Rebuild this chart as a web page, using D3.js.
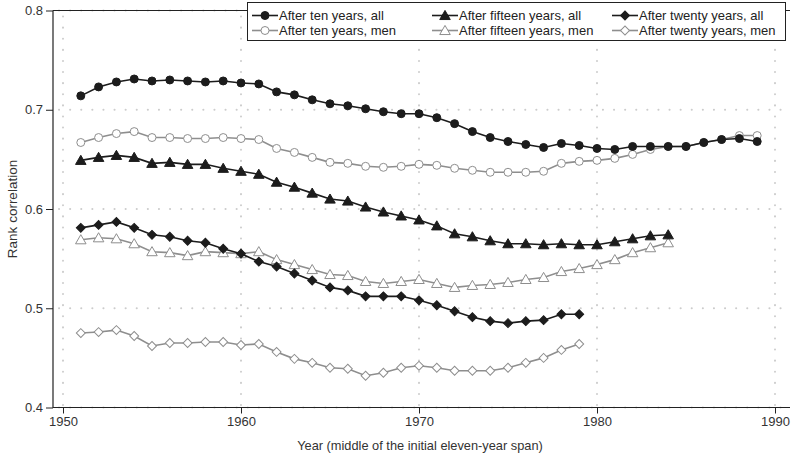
<!DOCTYPE html>
<html>
<head>
<meta charset="utf-8">
<script src="https://cdn.jsdelivr.net/npm/d3@7"></script>
<style>
  body { margin: 0; background: #fff; }
  svg { font-family: "Liberation Sans", Arial, sans-serif; }
</style>
</head>
<body>
<svg id="chart" width="791" height="459"></svg>
<script>
// Dades: correlacions de rang per any central (1951 endavant)
const firstYear = 1951;
const tenAll = [0.714,0.723,0.728,0.731,0.729,0.730,0.729,0.728,0.729,0.727,0.726,0.718,0.715,0.710,0.706,0.704,0.701,0.698,0.696,0.696,0.692,0.686,0.678,0.672,0.668,0.665,0.662,0.666,0.664,0.661,0.660,0.663,0.663,0.663,0.663,0.667,0.670,0.671,0.668];
const tenMen = [0.667,0.672,0.676,0.678,0.672,0.672,0.671,0.671,0.672,0.671,0.670,0.661,0.657,0.652,0.647,0.646,0.643,0.642,0.643,0.645,0.644,0.641,0.639,0.637,0.637,0.637,0.638,0.646,0.648,0.649,0.651,0.655,0.660,0.663,0.663,0.667,0.670,0.674,0.674];
const fifteenAll = [0.649,0.652,0.654,0.652,0.646,0.647,0.645,0.645,0.641,0.638,0.635,0.627,0.622,0.616,0.610,0.608,0.602,0.597,0.593,0.589,0.583,0.575,0.572,0.568,0.565,0.565,0.564,0.565,0.564,0.564,0.567,0.570,0.573,0.574];
const fifteenMen = [0.569,0.571,0.570,0.565,0.557,0.556,0.553,0.557,0.556,0.555,0.557,0.549,0.544,0.539,0.534,0.533,0.527,0.525,0.527,0.529,0.525,0.521,0.523,0.524,0.526,0.529,0.531,0.537,0.540,0.544,0.549,0.556,0.561,0.566];
const twentyAll = [0.581,0.584,0.587,0.581,0.574,0.572,0.568,0.566,0.560,0.555,0.547,0.542,0.535,0.528,0.521,0.518,0.512,0.512,0.512,0.508,0.503,0.497,0.491,0.487,0.485,0.487,0.488,0.494,0.494];
const twentyMen = [0.475,0.476,0.478,0.472,0.462,0.465,0.465,0.466,0.466,0.463,0.464,0.456,0.449,0.445,0.440,0.439,0.432,0.435,0.440,0.442,0.440,0.437,0.437,0.437,0.440,0.445,0.450,0.458,0.464];

const xTicks = [1950, 1960, 1970, 1980, 1990];
const yTicks = [0.4, 0.5, 0.6, 0.7, 0.8];

const series = [
  { name: "After ten years, all", values: tenAll, shape: "circle", men: false },
  { name: "After fifteen years, all", values: fifteenAll, shape: "triangle", men: false },
  { name: "After twenty years, all", values: twentyAll, shape: "diamond", men: false },
  { name: "After ten years, men", values: tenMen, shape: "circle", men: true },
  { name: "After fifteen years, men", values: fifteenMen, shape: "triangle", men: true },
  { name: "After twenty years, men", values: twentyMen, shape: "diamond", men: true }
];

const svg = d3.select("#chart");
const mLeft = 53, mRight = 790, mTop = 10.5, mBottom = 407.5;

const x = d3.scaleLinear().domain([1950, 1990]).range([63, 775]);
const y = d3.scaleLinear().domain([0.4, 0.8]).range([mBottom, mTop]);

// Graella puntejada
const grid = svg.append("g")
  .attr("stroke", "#cccccc")
  .attr("stroke-width", 2)
  .attr("stroke-dasharray", "0.1 11")
  .attr("stroke-linecap", "round");
yTicks.forEach(t => grid.append("line")
  .attr("x1", mLeft + 6).attr("x2", mRight).attr("y1", y(t)).attr("y2", y(t)));
xTicks.forEach(t => grid.append("line")
  .attr("x1", x(t)).attr("x2", x(t)).attr("y1", mTop + 6).attr("y2", mBottom));

// Eixos
const yAxis = svg.append("g")
  .attr("transform", `translate(${mLeft},0)`)
  .call(d3.axisLeft(y).tickValues(yTicks).tickFormat(d3.format(".1f")).tickSize(7).tickPadding(3));
const xAxis = svg.append("g")
  .attr("transform", `translate(0,${mBottom})`)
  .call(d3.axisBottom(x).tickValues(xTicks).tickFormat(d3.format("d")).tickSize(6).tickPadding(3));
[yAxis, xAxis].forEach(a => {
  a.select(".domain").remove();
  a.selectAll("line").attr("stroke", "#222");
  a.selectAll("text").attr("fill", "#333").style("font-size", "13px");
});
svg.append("path")
  .attr("d", `M${mLeft},${mTop}V${mBottom}H${mRight}`)
  .attr("fill", "none").attr("stroke", "#222").attr("stroke-width", 1.2);
svg.append("line")
  .attr("x1", mLeft).attr("x2", mRight).attr("y1", mTop).attr("y2", mTop)
  .attr("stroke", "#222").attr("stroke-width", 1);

// Títols
svg.append("text")
  .attr("transform", `translate(17,${(mTop + mBottom) / 2}) rotate(-90)`)
  .attr("text-anchor", "middle")
  .attr("fill", "#333")
  .style("font-size", "13.5px")
  .text("Rank correlation");
svg.append("text")
  .attr("x", 420).attr("y", 450)
  .attr("text-anchor", "middle")
  .attr("fill", "#333")
  .style("font-size", "12.8px")
  .text("Year (middle of the initial eleven-year span)");

const symbolFor = {
  circle: d3.symbol().type(d3.symbolCircle).size(50),
  triangle: d3.symbol().type(d3.symbolTriangle).size(48),
  diamond: d3.symbol().type(d3.symbolSquare).size(40)
};
const styleFor = s => s.men
  ? { line: "#8e8e8e", fill: "#fff", stroke: "#8e8e8e" }
  : { line: "#1c1c1c", fill: "#1c1c1c", stroke: "#1c1c1c" };
const symTransform = shape => (shape === "diamond" ? " rotate(45)" : "") + (shape === "triangle" ? " translate(0,1)" : "");

const line = d3.line()
  .x((d, i) => x(firstYear + i))
  .y(d => y(d));

// Primer els homes (gris), després els totals (negre) a sobre
const order = series.filter(s => s.men).concat(series.filter(s => !s.men));
order.forEach(s => {
  const st = styleFor(s);
  const g = svg.append("g");
  g.append("path")
    .datum(s.values)
    .attr("d", line)
    .attr("fill", "none")
    .attr("stroke", st.line)
    .attr("stroke-width", 1.6);
  g.selectAll("path.pt")
    .data(s.values)
    .join("path")
    .attr("class", "pt")
    .attr("d", symbolFor[s.shape])
    .attr("transform", (d, i) => `translate(${x(firstYear + i)},${y(d)})` + symTransform(s.shape))
    .attr("fill", st.fill)
    .attr("stroke", st.stroke)
    .attr("stroke-width", 1);
});

// Llegenda
const lg = svg.append("g");
lg.append("rect")
  .attr("x", 247.5).attr("y", 2.5).attr("width", 538).attr("height", 38)
  .attr("fill", "#fff").attr("stroke", "#222");
const colX = [252, 432, 612];
series.forEach((s, i) => {
  const st = styleFor(s);
  const cx = colX[i % 3], cy = i < 3 ? 15.5 : 30.5;
  const e = lg.append("g").attr("transform", `translate(${cx},${cy})`);
  e.append("line").attr("x1", 0).attr("x2", 26).attr("stroke", st.line).attr("stroke-width", 1.6);
  e.append("path")
    .attr("d", symbolFor[s.shape])
    .attr("transform", "translate(13,0)" + symTransform(s.shape))
    .attr("fill", st.fill).attr("stroke", st.stroke);
  e.append("text")
    .attr("x", 27).attr("y", 4.5)
    .attr("fill", "#222")
    .style("font-size", "13px")
    .text(s.name);
});
</script>
</body>
</html>
